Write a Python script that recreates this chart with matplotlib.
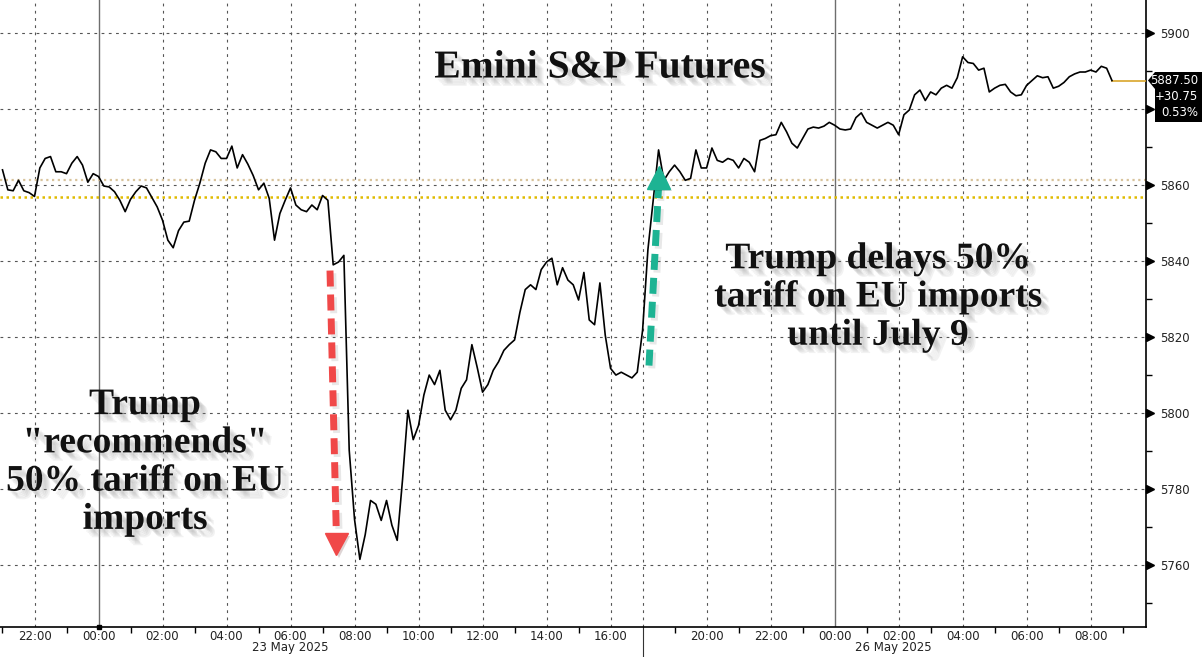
import numpy as np
import pandas as pd
import matplotlib
matplotlib.use("Agg")
import matplotlib.pyplot as plt
import matplotlib.patheffects as pe
import matplotlib.transforms as mtransforms
from matplotlib.patches import Polygon

# 10-minute closes, Friday session (from 22 May 21:00) and Sunday session (from 25 May 18:00)
fri_prices = [
    5864, 5858.75, 5858.5, 5861.25, 5858.5, 5858, 5857, 5864.5, 5867, 5867.5,
    5863.5, 5863.5, 5863, 5865.75, 5867.5, 5865.25, 5860.75, 5863, 5862.25, 5859.75,
    5859.5, 5858.25, 5856, 5853, 5856.25, 5858.25, 5859.75, 5859.25, 5856.75, 5854.25,
    5850.75, 5845.5, 5843.5, 5848, 5850.25, 5850.5, 5856, 5860.5, 5865.75, 5869.25,
    5868.75, 5867, 5867, 5870.25, 5864.5, 5868, 5865.5, 5862.5, 5858.75, 5860.5,
    5856.5, 5845.5, 5852.5, 5856, 5859.25, 5854.75, 5853.5, 5853, 5854.75, 5853.5,
    5857.25, 5856, 5839, 5839.75, 5841.5, 5790.25, 5772, 5761.5, 5768, 5777,
    5776, 5771.75, 5777, 5770.5, 5766.5, 5782.5, 5800.75, 5793, 5796.75, 5804.75,
    5810, 5807.5, 5811.25, 5800.75, 5798.25, 5800.75, 5806.5, 5808.75, 5818, 5812,
    5805.5, 5807.5, 5811.25, 5813.5, 5816.5, 5818, 5819.25, 5826.5, 5832.5, 5833.75,
    5832.5, 5837.75, 5839.75, 5840.75, 5833.75, 5838.25, 5835, 5833.75, 5829.75, 5837,
    5824.5, 5823.25, 5834.25, 5820.5, 5811.75, 5810, 5810.75, 5810, 5809.25, 5810.75,
]
sun_prices = [
    5821.75, 5843, 5856, 5869.25, 5861.25, 5863.5, 5865.25, 5863.5, 5861.25, 5861.75,
    5869.25, 5864.5, 5864.5, 5869.75, 5866.5, 5866, 5867, 5866.5, 5864.5, 5867,
    5866, 5863.5, 5871.75, 5872.25, 5873, 5873.25, 5876.5, 5874, 5871, 5869.75,
    5872.25, 5874.75, 5875.25, 5875, 5875.5, 5876.5, 5875.75, 5874.75, 5874.5, 5874.75,
    5877.75, 5879, 5876.5, 5875.75, 5875, 5875.75, 5876.5, 5875.75, 5873.25, 5878.5,
    5879.75, 5883.75, 5885, 5882.25, 5884.5, 5883.75, 5885.5, 5886.25, 5885.5, 5888.25,
    5893.75, 5892.25, 5892, 5890.25, 5890.75, 5884.5, 5885.5, 5886.25, 5886.5, 5884.5,
    5883.5, 5883.75, 5886.25, 5887.5, 5888.75, 5888.25, 5888.5, 5885.5, 5886, 5887,
    5888.5, 5889.25, 5889.75, 5889.75, 5890.25, 5889.75, 5891.25, 5890.75, 5887.5,
]
last_price = 5887.50
prev_settle = 5856.75
fri_close = 5861.25
y_ticks = [5760, 5780, 5800, 5820, 5840, 5860, 5880, 5900]

fri_times = pd.date_range("2025-05-22 21:00", periods=len(fri_prices), freq="10min")
sun_times = pd.date_range("2025-05-25 18:00", periods=len(sun_prices), freq="10min")

ORIGIN = pd.Timestamp("2025-05-22 22:00")
SUN_OPEN = pd.Timestamp("2025-05-25 18:00")


def to_pos(ts):
    # hours since origin, with the weekend gap squeezed out
    ts = pd.Timestamp(ts)
    h = (ts - ORIGIN) / pd.Timedelta(hours=1)
    if ts >= SUN_OPEN:
        h -= 49
    return h


fri_x = [to_pos(t) for t in fri_times]
sun_x = [to_pos(t) for t in sun_times]
xs = fri_x + sun_x
ys = fri_prices + sun_prices

fig = plt.figure(figsize=(12.02, 6.57), dpi=100)
ax = fig.add_axes([0, 30 / 657, 1146 / 1202, 627 / 657])
x0, x1 = -1.078, 34.73
ax.set_xlim(x0, x1)
ax.set_ylim(5743.7, 5908.7)

# grid
grid_kw = dict(color="#555555", lw=0.8, ls=(0, (2.5, 4)), zorder=1)
for v in y_ticks:
    ax.axhline(v, **grid_kw)
major_times = list(pd.date_range("2025-05-22 22:00", "2025-05-23 16:00", freq="2h")) + \
    list(pd.date_range("2025-05-25 20:00", "2025-05-26 08:00", freq="2h"))
major_pos = [to_pos(t) for t in major_times]
for t, p in zip(major_times, major_pos):
    if t.hour == 0:
        ax.axvline(p, color="#6e6e6e", lw=1.0, zorder=1)
    else:
        ax.axvline(p, **grid_kw)
break_pos = to_pos(SUN_OPEN)
ax.axvline(break_pos, **grid_kw)
ax.plot([break_pos, break_pos], [0, -0.048], transform=ax.get_xaxis_transform(),
        color="#333333", lw=0.8, clip_on=False)

# reference levels
ax.axhline(fri_close, color="#d8c39c", lw=1.6, ls=(0, (1, 1.6)), zorder=2)
ax.axhline(prev_settle, color="#e0bb00", lw=1.8, ls=(0, (1, 1.4)), zorder=2)

# price line
ax.plot(xs, ys, color="black", lw=1.2, zorder=4)
ax.plot([sun_x[-1], x1], [last_price, last_price], color="#d9a62a", lw=1.2, zorder=3)

# arrows
shadow = [pe.SimpleLineShadow(offset=(2, -2), shadow_color="gray", alpha=0.18), pe.Normal()]
red = "#f04848"
green = "#1db393"
rx0, rx1 = to_pos("2025-05-23 07:14"), to_pos("2025-05-23 07:26")
ax.plot([rx0, rx1], [5837.5, 5767.5], color=red, lw=5, ls=(0, (2.3, 1.15)),
        dash_capstyle="butt", zorder=5, path_effects=shadow)
ax.plot([rx1], [5765.5], marker="v", ms=16, color=red, zorder=5, mec=red,
        path_effects=[pe.SimplePatchShadow(offset=(2, -2), alpha=0.18), pe.Normal()])
gx0, gx1 = to_pos("2025-05-25 18:12"), to_pos("2025-05-25 18:30")
ax.plot([gx0, gx1], [5812.5, 5859.5], color=green, lw=5, ls=(0, (2.3, 1.15)),
        dash_capstyle="butt", zorder=5, path_effects=shadow)
ax.plot([gx1], [5862.0], marker="^", ms=16, color=green, zorder=5, mec=green,
        path_effects=[pe.SimplePatchShadow(offset=(2, -2), alpha=0.18), pe.Normal()])

# axes styling
for s in ["left", "top"]:
    ax.spines[s].set_visible(False)
ax.spines["right"].set_linewidth(1.2)
ax.spines["bottom"].set_linewidth(1.2)
ax.yaxis.tick_right()
ax.set_yticks(y_ticks)
# the 5880 label sits under the last-price tag
ax.set_yticklabels(["" if v == 5880 else str(v) for v in y_ticks], fontsize=8.5, color="#222222")
ax.set_yticks(np.arange(5750, 5910, 20), minor=True)
ax.tick_params(axis="y", which="major", length=0, pad=10)
ax.tick_params(axis="y", which="minor", length=4, width=1, direction="out")
tri = mtransforms.blended_transform_factory(ax.transAxes, ax.transData) + \
    mtransforms.ScaledTranslation(4 / 100, 0, fig.dpi_scale_trans)
ax.plot([1] * len(y_ticks), y_ticks, ls="none", marker=">", ms=6, color="black",
        transform=tri, clip_on=False)

ax.set_xticks(major_pos)
ax.set_xticklabels([t.strftime("%H:%M") for t in major_times], fontsize=8.5, color="#222222")
odd_times = list(pd.date_range("2025-05-22 21:00", "2025-05-23 16:00", freq="1h")) + \
    list(pd.date_range("2025-05-25 19:00", "2025-05-26 09:00", freq="1h"))
ax.set_xticks([to_pos(t) for t in odd_times], minor=True)
ax.tick_params(axis="x", which="major", length=0, pad=2)
ax.tick_params(axis="x", which="minor", length=4, width=1)
ax.plot([to_pos("2025-05-23 00:00")], [0], transform=ax.get_xaxis_transform(), marker="s",
        ms=3.5, color="black", clip_on=False)
ax.text(to_pos("2025-05-23 06:00"), -0.0225, "23 May 2025", transform=ax.get_xaxis_transform(),
        ha="center", va="top", fontsize=8.5, color="#222222")
ax.text(to_pos("2025-05-26 01:50"), -0.0225, "26 May 2025", transform=ax.get_xaxis_transform(),
        ha="center", va="top", fontsize=8.5, color="#222222")

# price tag
tag = Polygon([(1148 / 1202, 1 - 80.5 / 657), (1155 / 1202, 1 - 72 / 657), (1202 / 1202, 1 - 72 / 657),
               (1202 / 1202, 1 - 122 / 657), (1155 / 1202, 1 - 122 / 657), (1155 / 1202, 1 - 89 / 657)],
              closed=True, facecolor="black", edgecolor="none", transform=fig.transFigure, zorder=10)
fig.patches.append(tag)
for i, s in enumerate([f"{last_price:.2f}", f"+{last_price - prev_settle:.2f}",
                       f"{(last_price - prev_settle) / prev_settle * 100:.2f}%"]):
    fig.text(1198 / 1202, 1 - (81 + 16 * i) / 657, s, color="white", fontsize=8.5,
             ha="right", va="center", zorder=11)

# annotations: soft drop shadow built from several faint offset copies
txt_fx = [pe.SimplePatchShadow(offset=(d, -d), shadow_rgbFace="#888888", alpha=0.1)
          for d in (6, 5, 4, 3, 2)] + [pe.Normal()]
serif = dict(family="Liberation Serif", weight="bold", color="#111111")
fig.text(600 / 1202, 1 - 68 / 657, "Emini S&P Futures", fontsize=28.5, ha="center", va="center",
         path_effects=txt_fx, **serif)
fig.text(145 / 1202, 1 - 462 / 657, 'Trump\n"recommends"\n50% tariff on EU\nimports', fontsize=27,
         ha="center", va="center", linespacing=1.12, path_effects=txt_fx, **serif)
fig.text(878 / 1202, 1 - 297 / 657, "Trump delays 50%\ntariff on EU imports\nuntil July 9", fontsize=27,
         ha="center", va="center", linespacing=1.12, path_effects=txt_fx, **serif)

fig.savefig("out.png", dpi=100)
